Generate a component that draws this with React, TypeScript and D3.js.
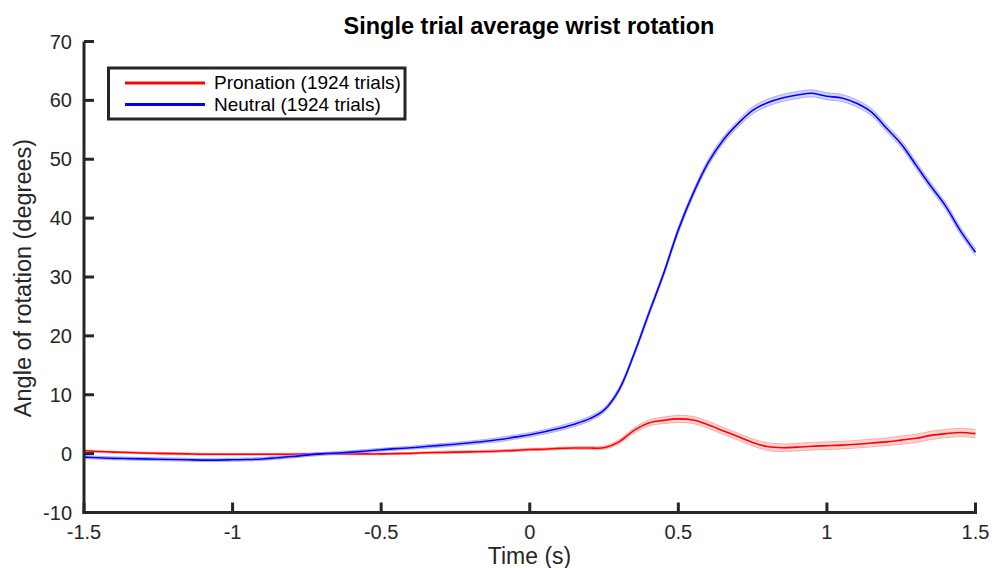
import React from "react";
import * as d3 from "d3";

const time: number[] = [
  -1.5, -1.45, -1.4, -1.35, -1.3, -1.25, -1.2, -1.15, -1.1, -1.05,
  -1.0, -0.95, -0.9, -0.85, -0.8, -0.75, -0.7, -0.65, -0.6, -0.55,
  -0.5, -0.45, -0.4, -0.35, -0.3, -0.25, -0.2, -0.15, -0.1, -0.05,
  0.0, 0.05, 0.1, 0.15, 0.2, 0.25, 0.3, 0.35, 0.4, 0.45,
  0.5, 0.55, 0.6, 0.65, 0.7, 0.75, 0.8, 0.85, 0.9, 0.95,
  1.0, 1.05, 1.1, 1.15, 1.2, 1.25, 1.3, 1.35, 1.4, 1.45, 1.5,
];

const neutral: number[] = [
  -0.6, -0.7, -0.8, -0.85, -0.9, -0.95, -1.0, -1.05, -1.1, -1.1,
  -1.05, -1.0, -0.9, -0.7, -0.5, -0.25, -0.05, 0.1, 0.25, 0.45,
  0.65, 0.85, 1.0, 1.2, 1.4, 1.6, 1.85, 2.1, 2.4, 2.8,
  3.2, 3.7, 4.3, 5.0, 5.9, 7.4, 10.8, 16.8, 23.7, 30.5,
  38.0, 44.2, 49.4, 53.2, 56.0, 58.3, 59.6, 60.4, 60.9, 61.2,
  60.7, 60.4, 59.5, 58.0, 55.3, 52.6, 49.0, 45.4, 42.0, 37.8, 34.2,
];

const neutralSem: number[] = [
  0.25, 0.25, 0.25, 0.25, 0.25, 0.25, 0.25, 0.25, 0.25, 0.25,
  0.25, 0.25, 0.25, 0.25, 0.25, 0.25, 0.25, 0.25, 0.25, 0.25,
  0.25, 0.25, 0.25, 0.3, 0.3, 0.3, 0.3, 0.3, 0.35, 0.35,
  0.35, 0.35, 0.4, 0.4, 0.4, 0.4, 0.4, 0.4, 0.45, 0.45,
  0.5, 0.5, 0.55, 0.55, 0.55, 0.6, 0.6, 0.6, 0.6, 0.6,
  0.6, 0.6, 0.6, 0.6, 0.6, 0.6, 0.6, 0.6, 0.6, 0.6, 0.6,
];

const pronation: number[] = [
  0.5, 0.35, 0.25, 0.2, 0.1, 0.05, 0.0, -0.05, -0.1, -0.1,
  -0.1, -0.1, -0.1, -0.1, -0.1, -0.05, 0.0, -0.05, -0.05, -0.05,
  -0.05, 0.0, 0.05, 0.15, 0.2, 0.25, 0.3, 0.35, 0.45, 0.55,
  0.7, 0.75, 0.9, 0.95, 0.95, 1.0, 2.0, 3.9, 5.2, 5.65,
  5.9, 5.7, 4.9, 3.9, 2.9, 1.9, 1.2, 1.0, 1.1, 1.25,
  1.35, 1.45, 1.6, 1.8, 2.0, 2.3, 2.6, 3.1, 3.4, 3.6, 3.4,
];

const pronationSem: number[] = [
  0.15, 0.15, 0.15, 0.15, 0.15, 0.15, 0.15, 0.15, 0.15, 0.15,
  0.15, 0.15, 0.15, 0.15, 0.15, 0.15, 0.15, 0.15, 0.15, 0.15,
  0.15, 0.15, 0.15, 0.15, 0.2, 0.2, 0.2, 0.2, 0.2, 0.2,
  0.2, 0.2, 0.2, 0.2, 0.25, 0.25, 0.35, 0.45, 0.5, 0.55,
  0.6, 0.6, 0.6, 0.6, 0.6, 0.6, 0.65, 0.65, 0.65, 0.65,
  0.65, 0.65, 0.65, 0.65, 0.65, 0.7, 0.7, 0.7, 0.7, 0.7, 0.7,
];

const xTicks: number[] = [-1.5, -1, -0.5, 0, 0.5, 1, 1.5];
const yTicks: number[] = [-10, 0, 10, 20, 30, 40, 50, 60, 70];
const xTickLabels: string[] = ["-1.5", "-1", "-0.5", "0", "0.5", "1", "1.5"];

const seriesNames: string[] = ["Pronation (1924 trials)", "Neutral (1924 trials)"];

const FONT = "'Liberation Sans', Arial, Helvetica, sans-serif";
const AXIS = "#262626";

export default function App() {
  const x = d3.scaleLinear().domain([-1.5, 1.5]).range([84, 975.5]);
  const y = d3.scaleLinear().domain([-10, 70]).range([512.5, 41.5]);

  const mkLine = (vals: number[]) =>
    d3
      .line<number>()
      .x((_, i) => x(time[i]))
      .y((v) => y(v))
      .curve(d3.curveCatmullRom.alpha(0.5))(vals) as string;

  const mkArea = (vals: number[], sem: number[]) =>
    d3
      .area<number>()
      .x((_, i) => x(time[i]))
      .y0((v, i) => y(v - sem[i]))
      .y1((v, i) => y(v + sem[i]))
      .curve(d3.curveCatmullRom.alpha(0.5))(vals) as string;

  const series = [
    { vals: pronation, sem: pronationSem, color: "#ff0000", band: "#ff8080" },
    { vals: neutral, sem: neutralSem, color: "#0000ff", band: "#8080ff" },
  ];

  return (
    <svg
      width={993}
      height={568}
      style={{ position: "absolute", left: 0, top: 0, background: "#fff" }}
      fontFamily={FONT}
    >
      <rect x={0} y={0} width={993} height={568} fill="#fff" />
      {series.map((s, k) => {
        const lo = s.vals.map((v, i) => v - s.sem[i]);
        const hi = s.vals.map((v, i) => v + s.sem[i]);
        return (
          <g key={k}>
            <path d={mkArea(s.vals, s.sem)} fill={s.band} fillOpacity={0.35} stroke="none" />
            <path d={mkLine(lo)} fill="none" stroke={s.band} strokeOpacity={0.6} strokeWidth={1} />
            <path d={mkLine(hi)} fill="none" stroke={s.band} strokeOpacity={0.6} strokeWidth={1} />
            <path d={mkLine(s.vals)} fill="none" stroke={s.color} strokeWidth={1.6} />
          </g>
        );
      })}

      {/* axes */}
      <line x1={84} x2={84} y1={y(70)} y2={y(-10) + 1.5} stroke={AXIS} strokeWidth={3} />
      <line x1={84 - 1.5} x2={x(1.5) + 1.5} y1={y(-10)} y2={y(-10)} stroke={AXIS} strokeWidth={3} />
      {yTicks.map((t) => (
        <g key={"y" + t}>
          <line x1={84} x2={94} y1={y(t)} y2={y(t)} stroke={AXIS} strokeWidth={3} />
          <text x={72} y={y(t) + 7} textAnchor="end" fontSize={20} fill="#262626">
            {t}
          </text>
        </g>
      ))}
      {xTicks.map((t, i) => (
        <g key={"x" + t}>
          <line x1={x(t)} x2={x(t)} y1={y(-10)} y2={y(-10) - 10} stroke={AXIS} strokeWidth={3} />
          <text x={x(t)} y={538.5} textAnchor="middle" fontSize={20} fill="#262626">
            {xTickLabels[i]}
          </text>
        </g>
      ))}

      <text x={529.5} y={564} textAnchor="middle" fontSize={23} fill="#262626">
        Time (s)
      </text>
      <text
        transform={`translate(30.5,278) rotate(-90)`}
        textAnchor="middle"
        fontSize={23.5}
        fill="#262626"
      >
        Angle of rotation (degrees)
      </text>
      <text x={529} y={34} textAnchor="middle" fontSize={23.5} fontWeight="bold" fill="#000">
        Single trial average wrist rotation
      </text>

      {/* legend */}
      <rect x={108.5} y={68} width={296.5} height={51} fill="#fff" stroke={AXIS} strokeWidth={3} />
      {series.map((s, k) => (
        <g key={"l" + k}>
          <line x1={125} x2={205} y1={83 + k * 21.5} y2={83 + k * 21.5} stroke={s.color} strokeWidth={3} />
          <text x={214} y={89 + k * 21.5} fontSize={19} fill="#000">
            {seriesNames[k]}
          </text>
        </g>
      ))}
    </svg>
  );
}
